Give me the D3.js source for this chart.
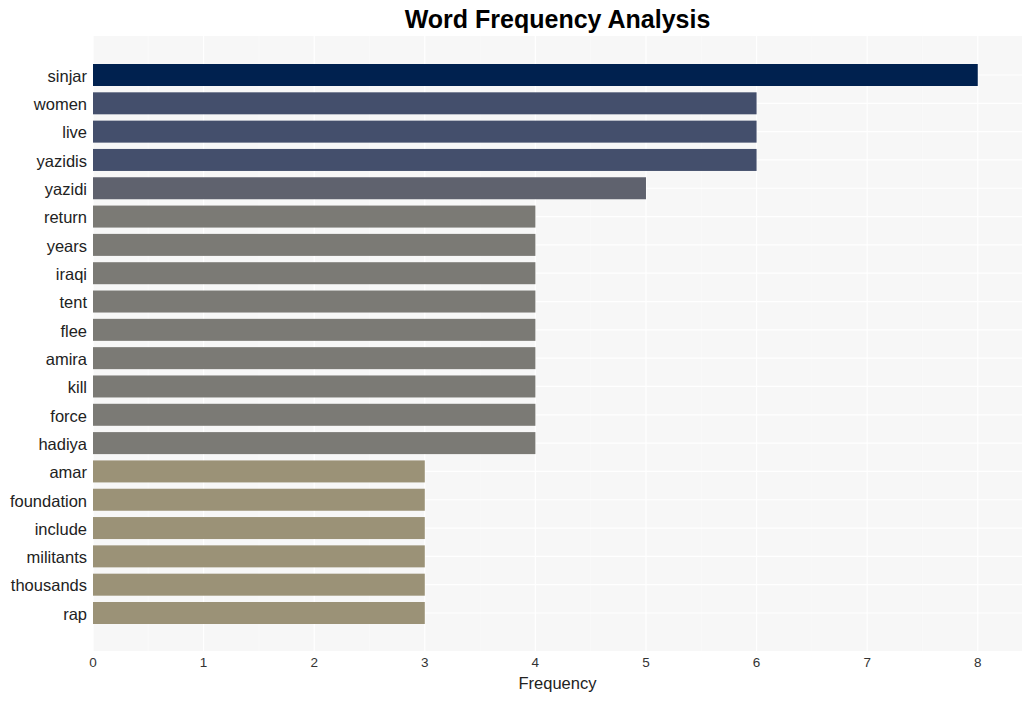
<!DOCTYPE html>
<html><head><meta charset="utf-8">
<script src="https://cdn.jsdelivr.net/npm/d3@7"></script>
<style>body{margin:0;background:#fff;font-family:"Liberation Sans",Arial,sans-serif;}</style>
</head><body><svg id="c" width="1032" height="701"></svg>
<script>
const categories = ["sinjar","women","live","yazidis","yazidi","return","years","iraqi","tent","flee","amira","kill","force","hadiya","amar","foundation","include","militants","thousands","rap"];
const values = [8,6,6,6,5,4,4,4,4,4,4,4,4,4,3,3,3,3,3,3];
const xTicks = [0,1,2,3,4,5,6,7,8];
const colorByValue = {8:"#00214f",6:"#444f6c",5:"#5f626e",4:"#7b7a75",3:"#9b9277"};

const svg = d3.select("#c");
const L=93, R=1022, T=36, B=651;
const x = d3.scaleLinear().domain([0,8.4]).range([L,R]);
const y = d3.scalePoint().domain(categories).range([75,613]);
const bh = 22;

svg.append("rect").attr("x",L).attr("y",T).attr("width",R-L).attr("height",B-T).attr("fill","#f7f7f7");
svg.append("g").selectAll("line").data(d3.range(0.5,8.4,1)).join("line")
  .attr("x1",d=>x(d)).attr("x2",d=>x(d)).attr("y1",T).attr("y2",B)
  .attr("stroke","#fafafa").attr("stroke-width",0.6);
svg.append("g").selectAll("line").data(xTicks).join("line")
  .attr("x1",d=>x(d)).attr("x2",d=>x(d)).attr("y1",T).attr("y2",B)
  .attr("stroke","#ffffff").attr("stroke-width",1.2);
svg.append("g").selectAll("line").data(categories).join("line")
  .attr("x1",L).attr("x2",R).attr("y1",d=>y(d)).attr("y2",d=>y(d))
  .attr("stroke","#ffffff").attr("stroke-width",1.2);

svg.append("g").selectAll("rect").data(categories).join("rect")
  .attr("x",x(0)).attr("y",d=>y(d)-bh/2).attr("height",bh)
  .attr("width",(d,i)=>x(values[i])-x(0))
  .attr("fill",(d,i)=>colorByValue[values[i]]);

svg.append("g").selectAll("text").data(categories).join("text")
  .attr("x",L-6).attr("y",d=>y(d)+1).attr("dy","0.35em").attr("text-anchor","end")
  .attr("font-size",16.5).attr("fill","#222").text(d=>d);
svg.append("g").selectAll("text").data(xTicks).join("text")
  .attr("x",d=>x(d)).attr("y",667).attr("text-anchor","middle")
  .attr("font-size",13.5).attr("fill","#333").text(d=>d);

svg.append("text").attr("x",(L+R)/2).attr("y",689).attr("text-anchor","middle")
  .attr("font-size",16.5).attr("fill","#222").text("Frequency");
svg.append("text").attr("x",(L+R)/2).attr("y",28).attr("text-anchor","middle")
  .attr("font-size",25).attr("font-weight","bold").attr("fill","#000").text("Word Frequency Analysis");
</script></body></html>
